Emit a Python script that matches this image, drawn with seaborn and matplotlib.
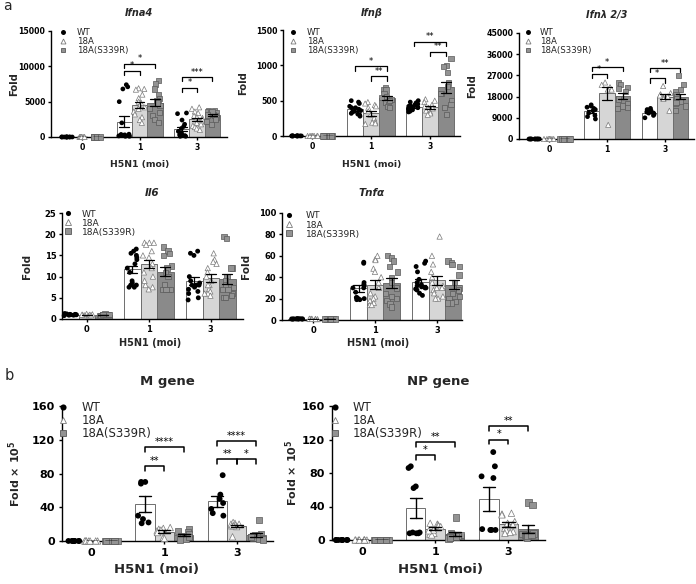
import numpy as np
import pandas as pd
import matplotlib
matplotlib.use("Agg")
import matplotlib.pyplot as plt
import seaborn as sns
from matplotlib.lines import Line2D

# ---------------- data ----------------
MOI = ["0", "1", "3"]
GENOTYPES = ["WT", "18A", "18A(S339R)"]

BASE_WT = [1.2, 0.9, 1.0, 1.1, 0.8, 1.0, 1.3, 0.9, 1.0, 1.1]
BASE_18A = [1.0, 0.9, 1.1, 1.2, 0.8, 1.0, 1.0, 0.9]
BASE_S339R = [1.0, 1.1, 0.9, 1.0, 1.2, 0.8, 1.0, 1.0]

IFNA4_WT = [BASE_WT,
            [7400, 7100, 6800, 5000, 2000, 400, 300, 250, 200, 150, 100, 100, 350, 300],
            [3400, 3300, 2400, 1800, 1500, 1200, 800, 500, 300, 200, 100, 100, 200, 300]]
IFNA4_18A = [BASE_18A,
             [6900, 6800, 6700, 6000, 5500, 5000, 4800, 4500, 4000, 3600, 3200, 2800, 2400, 2000, 4200],
             [4200, 4000, 3600, 3400, 3000, 2700, 2500, 2200, 2000, 1800, 1600, 1400, 1200, 1000, 2800]]
IFNA4_S339R = [BASE_S339R,
               [8000, 7500, 6800, 6000, 5500, 5200, 5000, 4500, 4000, 3500, 3000, 2500, 2000, 4800],
               [3800, 3700, 3600, 3500, 3400, 3300, 3200, 3000, 2800, 2500, 2200, 1800, 3600, 3100]]
IFNA4_SIG = [(1, 0, 1, 9400, "*"), (1, 0, 2, 10400, "*"), (2, 0, 1, 7000, "*"), (2, 0, 2, 8460, "***")]

IFNB_WT = [BASE_WT,
           [500, 480, 460, 420, 400, 380, 360, 340, 320, 300, 280, 400, 350, 310],
           [500, 480, 470, 450, 440, 430, 420, 410, 400, 390, 380, 370, 360, 350, 340]]
IFNB_18A = [BASE_18A,
            [480, 460, 440, 420, 300, 250, 200, 190, 180, 170, 400, 350],
            [520, 500, 480, 440, 420, 400, 380, 360, 340, 320, 300, 390]]
IFNB_S339R = [BASE_S339R,
              [680, 660, 650, 600, 560, 520, 480, 450, 420, 400, 540, 500],
              [1100, 1000, 980, 900, 750, 700, 600, 500, 450, 400, 300, 600]]
IFNB_SIG = [(1, 0, 2, 984, "*"), (1, 1, 2, 844, "**"), (2, 0, 2, 1336, "**"), (2, 1, 2, 1195, "**")]

IFNL_WT = [BASE_WT,
           [14500, 14000, 13500, 13000, 12500, 12000, 11000, 10000, 9500, 8500],
           [13000, 12500, 12000, 12000, 11500, 11000, 11000, 10500, 10000, 9000]]
IFNL_18A = [BASE_18A,
            [24000, 23000, 22000, 21000, 21000, 6000],
            [22500, 19500, 19000, 18500, 18000, 17500, 17000, 12000]]
IFNL_S339R = [BASE_S339R,
              [24000, 23000, 22000, 21500, 20000, 17000, 15000, 14000, 13000, 13500],
              [27000, 23000, 21000, 20000, 19000, 18000, 17000, 16000, 15000, 14000, 12000, 16000, 15500]]
IFNL_SIG = [(1, 0, 2, 30660, "*"), (1, 0, 1, 27570, "*"), (2, 0, 2, 30240, "**"), (2, 0, 1, 25740, "*")]

IL6_WT = [BASE_WT,
          [16.5, 16, 15.5, 15, 14.5, 14, 13, 12, 11, 9, 8.5, 8, 7.5, 7.5, 8],
          [16, 15.5, 15, 10, 9, 8.5, 8, 8, 7.5, 7, 6.5, 6, 5, 4.5, 8]]
IL6_18A = [BASE_18A,
           [18, 18, 18, 17.5, 16, 15, 14.5, 13, 12, 11, 10, 8, 7.5, 7, 9],
           [15.5, 14, 13.5, 13, 12, 11, 10, 9, 8, 7, 6.5, 6, 6, 5.5, 8]]
IL6_S339R = [BASE_S339R,
             [17, 16, 15.5, 15, 12.5, 12, 11, 10, 8, 7, 7, 7, 7],
             [19.5, 19, 12, 12, 10, 9, 8, 7.5, 7, 6, 5.5, 5, 5, 7]]

TNFA_WT = [BASE_WT,
           [54, 53, 35, 33, 32, 30, 30, 26, 21, 20, 20, 19, 19, 21],
           [55, 53, 50, 45, 38, 35, 33, 32, 31, 30, 30, 29, 28, 25, 23]]
TNFA_18A = [BASE_18A,
            [57, 56, 48, 45, 40, 35, 30, 25, 22, 20, 18, 16, 14, 14, 30, 60],
            [78, 60, 52, 45, 40, 35, 32, 30, 28, 25, 22, 20, 20, 30]]
TNFA_S339R = [BASE_S339R,
              [60, 58, 55, 50, 45, 40, 35, 30, 25, 20, 18, 15, 12, 22],
              [55, 54, 52, 50, 42, 35, 30, 28, 25, 20, 17, 16, 16, 22]]

MOCK = [0.05, 0.0, 0.1, 0.05, 0.0, 0.08, 0.02, 0.04]
M_WT = [MOCK, [70, 70, 68, 30, 26, 22, 21], [78, 55, 50, 45, 38, 33, 30]]
M_18A = [MOCK, [16, 15, 14, 13, 12, 10, 4, 3], [22, 21, 20, 20, 19, 18, 17, 5, 18]]
M_S339R = [MOCK, [14, 12, 10, 8, 6, 4, 3, 2, 5], [25, 8, 7, 6, 5, 4, 3, 2, 5]]
M_SIG = [(1, 0, 1, 89, "**"), (1, 0, 2, 111, "****"), (2, 0, 2, 118, "****"),
         (2, 0, 1, 97, "**"), (2, 1, 2, 97, "*")]

NP_WT = [MOCK, [88, 86, 64, 62, 9, 9, 8, 8, 8], [105, 88, 76, 74, 13, 12, 12, 12]]
NP_18A = [MOCK, [20, 19, 18, 17, 16, 8, 7, 6, 12, 11], [32, 31, 30, 22, 18, 14, 12, 10, 9, 8, 20]]
NP_S339R = [MOCK, [27, 8, 6, 5, 4, 3, 2, 4, 3], [45, 42, 8, 7, 6, 5, 4, 3, 5, 6]]
NP_SIG = [(1, 0, 2, 117, "**"), (1, 0, 1, 101, "*"), (2, 0, 2, 136, "**"), (2, 0, 1, 120, "*")]

# ---------------- style ----------------
W, H = 696, 584
BAR_COLORS = {"WT": "#ffffff", "18A": "#d6d6d6", "18A(S339R)": "#8a8a8a"}
PT_FACE = {"WT": "#000000", "18A": "#ffffff", "18A(S339R)": "#939393"}
PT_EDGE = {"WT": "#000000", "18A": "#7a7a7a", "18A(S339R)": "#5a5a5a"}
PT_MARK = {"WT": "o", "18A": "^", "18A(S339R)": "s"}

sns.set_theme(style="white")
plt.rcParams["font.family"] = ["DejaVu Sans"]
plt.rcParams["axes.linewidth"] = 1.0
np.random.seed(7)

fig = plt.figure(figsize=(W / 100, H / 100), dpi=100)


def frame(wt, a18, s339):
    rows = []
    for g, groups in zip(GENOTYPES, (wt, a18, s339)):
        for m, vals in zip(MOI, groups):
            for v in vals:
                rows.append((m, g, v))
    return pd.DataFrame(rows, columns=["moi", "genotype", "fold"])


def px(v):
    return v * 100 / 72.0


def panel(geom, data, ylim, yticks, title, title_it, ylabel, sigs, st):
    x0, x1, top, bot, xl = geom["box"]
    ax = fig.add_axes([x0 / W, 1 - bot / H, (x1 - x0) / W, (bot - top) / H])
    df = frame(*data)
    sns.barplot(data=df, x="moi", y="fold", hue="genotype", order=MOI, hue_order=GENOTYPES,
                palette=BAR_COLORS, errorbar="se", capsize=0.5, width=0.8, gap=0,
                err_kws={"color": "black", "linewidth": st["err"]},
                edgecolor="#6e6e6e", linewidth=0.7, legend=False, ax=ax)
    for g in GENOTYPES:
        sns.stripplot(data=df[df.genotype == g], x="moi", y="fold", hue="genotype",
                      order=MOI, hue_order=GENOTYPES, palette=PT_FACE, dodge=True,
                      jitter=0.3, marker=PT_MARK[g], size=st["ms"] * (1.1 if g != "WT" else 1.0),
                      edgecolor=PT_EDGE[g], linewidth=0.0 if g == "WT" else 0.5,
                      legend=False, ax=ax)
    for c in ax.collections:
        if len(c.get_offsets()) > 0:
            c.set_clip_on(False)
        c.set_zorder(3)
    for ln in ax.lines:
        ln.set_zorder(4)
    ax.set_xlim(*xl)
    ax.set_ylim(*ylim)
    ax.set_yticks(yticks)
    sns.despine(ax=ax)
    ax.tick_params(axis="both", which="major", length=2.5, width=1.0, color="black",
                   labelsize=st["tick"], pad=st["pad"], bottom=True, left=True,
                   labelcolor="black")
    for lbl in ax.get_xticklabels() + ax.get_yticklabels():
        lbl.set_fontweight("bold")
    for s in ("left", "bottom"):
        ax.spines[s].set_color("black")

    h = bot - top
    ty = geom["title_y"]
    ax.set_title(title, fontsize=st["title"], fontweight="bold",
                 fontstyle="italic" if title_it else "normal",
                 y=(bot - ty) / h, pad=0, va="center")
    ax.set_ylabel(ylabel, fontsize=st["ylab"], fontweight="bold")
    ax.yaxis.set_label_coords((geom["ylab_x"] - x0) / (x1 - x0), 0.5)
    ax.yaxis.label.set_va("center")
    if geom.get("xlab") is not None:
        lx, ly = geom["xlab"]
        ax.set_xlabel("H5N1 (moi)", fontsize=st["xlab"], fontweight="bold")
        ax.xaxis.set_label_coords((lx - x0) / (x1 - x0), (bot - ly) / h)
        ax.xaxis.label.set_va("center")
    else:
        ax.set_xlabel("")

    mx, my, tx = geom["leg"]
    fs = px(st["leg"])
    hl = 1.0
    handles = [Line2D([], [], linestyle="none", marker=PT_MARK[g], markersize=st["ms"] * 1.05,
                      markerfacecolor=PT_FACE[g], markeredgecolor=PT_EDGE[g],
                      markeredgewidth=0 if g == "WT" else 0.6, label=g) for g in GENOTYPES]
    ax_x = mx - 0.5 * hl * fs
    ax_y = my - 0.6 * fs
    ax.legend(handles=handles, loc="upper left",
              bbox_to_anchor=((ax_x - x0) / (x1 - x0), (bot - ax_y) / h),
              frameon=False, fontsize=st["leg"], handlelength=hl,
              handletextpad=(tx - mx - 0.5 * hl * fs) / fs,
              labelspacing=0.0, borderpad=0, borderaxespad=0)

    off = 0.8 / 3
    drop = (ylim[1] - ylim[0]) * st["drop"]
    for mi, h1, h2, y, lab in sigs:
        xa = mi + (h1 - 1) * off
        xb = mi + (h2 - 1) * off
        ax.plot([xa, xa, xb, xb], [y - drop, y, y, y - drop], color="black",
                lw=st["brk"], clip_on=False, zorder=5)
        ax.text((xa + xb) / 2, y + drop * 0.05, lab, ha="center", va="bottom",
                fontsize=st["star"], color="black")
    return ax


ROW1 = dict(tick=5.6, pad=1.5, title=7, ylab=7.2, xlab=6.7, leg=6.2, ms=3.4, err=0.9,
            drop=0.04, brk=0.9, star=6)
ROW2 = dict(tick=6.0, pad=1.5, title=7.5, ylab=7.5, xlab=7.0, leg=6.6, ms=3.5, err=0.9,
            drop=0.04, brk=0.9, star=6)
ROWB = dict(tick=8.0, pad=2.5, title=9.5, ylab=8.0, xlab=9.5, leg=8.5, ms=4.2, err=1.0,
            drop=0.035, brk=1.1, star=7)

G_IFNA4 = dict(box=(51, 227, 31, 137, (-0.54, 2.52)), title_y=13, ylab_x=14,
               xlab=(140, 164), leg=(63, 33, 77))
G_IFNB = dict(box=(283, 460, 30, 136, (-0.49, 2.51)), title_y=13, ylab_x=243,
              xlab=(372, 164), leg=(293, 33, 307))
G_IFNL = dict(box=(519, 694, 33, 139, (-0.52, 2.5)), title_y=15, ylab_x=472,
              xlab=None, leg=(528, 33, 540))
G_IL6 = dict(box=(62, 243, 213, 319, (-0.4, 2.52)), title_y=193, ylab_x=27,
             xlab=(150, 343), leg=(68, 215, 82))
G_TNFA = dict(box=(282, 462, 213, 320, (-0.5, 2.4)), title_y=193, ylab_x=246,
              xlab=(378, 343), leg=(289, 217, 306))
G_M = dict(box=(62, 273, 406, 541, (-0.41, 2.5)), title_y=381, ylab_x=15,
           xlab=(157, 570), leg=(63, 408, 82))
G_NP = dict(box=(332, 545, 406, 540, (-0.41, 2.5)), title_y=381, ylab_x=292,
            xlab=(441, 570), leg=(335, 408, 353))

panel(G_IFNA4, (IFNA4_WT, IFNA4_18A, IFNA4_S339R), (0, 15000), [0, 5000, 10000, 15000],
      "Ifna4", True, "Fold", IFNA4_SIG, ROW1)
panel(G_IFNB, (IFNB_WT, IFNB_18A, IFNB_S339R), (0, 1500), [0, 500, 1000, 1500],
      "Ifnβ", True, "Fold", IFNB_SIG, ROW1)
panel(G_IFNL, (IFNL_WT, IFNL_18A, IFNL_S339R), (0, 45000), [0, 9000, 18000, 27000, 36000, 45000],
      "Ifnλ 2/3", True, "Fold", IFNL_SIG, ROW1)
panel(G_IL6, (IL6_WT, IL6_18A, IL6_S339R), (0, 25), [0, 5, 10, 15, 20, 25],
      "Il6", True, "Fold", [], ROW2)
panel(G_TNFA, (TNFA_WT, TNFA_18A, TNFA_S339R), (0, 100), [0, 20, 40, 60, 80, 100],
      "Tnfα", True, "Fold", [], ROW2)
panel(G_M, (M_WT, M_18A, M_S339R), (0, 160), [0, 40, 80, 120, 160],
      "M gene", False, r"Fold × 10$^{\mathbf{5}}$", M_SIG, ROWB)
panel(G_NP, (NP_WT, NP_18A, NP_S339R), (0, 160), [0, 40, 80, 120, 160],
      "NP gene", False, r"Fold × 10$^{\mathbf{5}}$", NP_SIG, ROWB)

fig.text(3 / W, 1 - 6 / H, "a", fontsize=10, va="center", ha="left")
fig.text(5 / W, 1 - 375 / H, "b", fontsize=10.5, va="center", ha="left")

fig.savefig("out.png", dpi=100)
